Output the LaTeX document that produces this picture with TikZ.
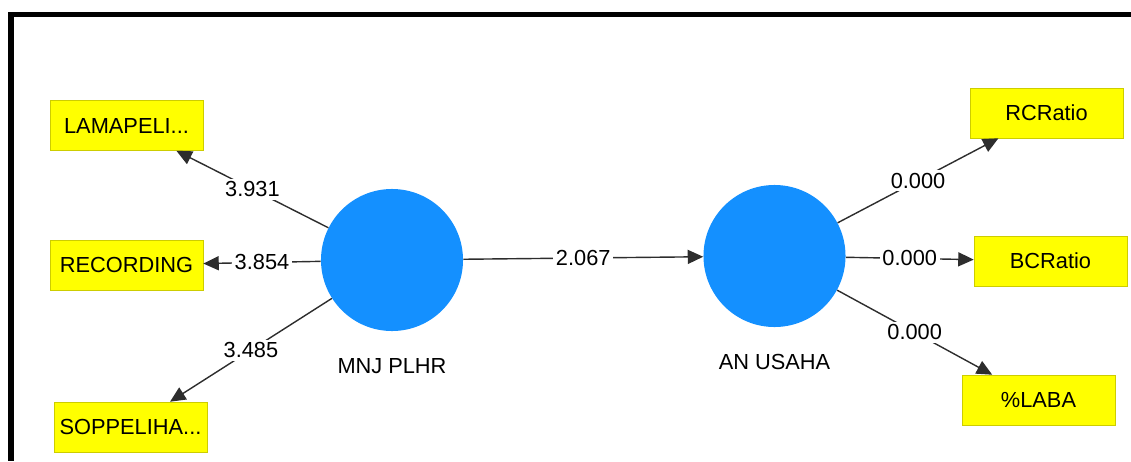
\documentclass[tikz,border=0pt]{standalone}
\usepackage{fontspec}
\setmainfont{Liberation Sans}
\usetikzlibrary{shapes, arrows.meta}

\definecolor{latentblue}{RGB}{20,144,255}
\definecolor{boxyellow}{RGB}{255,255,0}
\definecolor{boxedge}{RGB}{205,205,0}
\definecolor{linegray}{RGB}{45,45,45}

\tikzset{
	indicator/.style={rectangle, draw=boxedge, fill=boxyellow, minimum width=3.825cm, minimum height=1.25cm, font=\fontsize{15.5}{18}\selectfont},
	latent/.style={circle, fill=latentblue, minimum size=3.55cm, inner sep=0pt},
	loading/.style={draw=linegray, line width=1pt, -{Triangle[length=11pt,width=10pt]}},
	coef/.style={fill=white, inner sep=2pt, font=\fontsize{15.5}{18}\selectfont},
	caption/.style={font=\fontsize{15.5}{18}\selectfont}
}

\begin{document}
\begin{tikzpicture}[x=0.025cm, y=-0.025cm]
	\useasboundingbox (0,0) rectangle (1131,461);
	%Frame
		\draw[line width=0.1375cm] (1131,14.5) -- (11,14.5) -- (11,461);
	%Latent variables
		\node[latent] (mnj) at (392,260) {};
		\node[caption] (mnjname) at (392,366) {MNJ PLHR};
		\node[latent] (usaha) at (774.5,256) {};
		\node[caption] (usahaname) at (774.5,362) {AN USAHA};
	%Indicators MNJ PLHR
		\node[indicator] (lama) at (126.5,125.5) {LAMAPELI...};
		\node[indicator] (rec) at (126.5,265) {RECORDING};
		\node[indicator] (sop) at (130.5,427) {SOPPELIHA...};
	%Indicators AN USAHA
		\node[indicator] (rc) at (1046.5,113) {RCRatio};
		\node[indicator] (bc) at (1050.5,261) {BCRatio};
		\node[indicator] (laba) at (1038.5,400) {\%LABA};
	%MNJ PLHR->indicators
		\draw[loading] (mnj) -- node[coef] {3.931} (lama);
		\draw[loading] (mnj) -- node[coef] {3.854} (rec);
		\draw[loading] (mnj) -- node[coef] {3.485} (sop);
	%MNJ PLHR->AN USAHA
		\draw[loading] (mnj) -- node[coef] {2.067} (usaha);
	%AN USAHA->indicators
		\draw[loading] (usaha) -- node[coef] {0.000} (rc);
		\draw[loading] (usaha) -- node[coef] {0.000} (bc);
		\draw[loading] (usaha) -- node[coef] {0.000} (laba);
\end{tikzpicture}
\end{document}
